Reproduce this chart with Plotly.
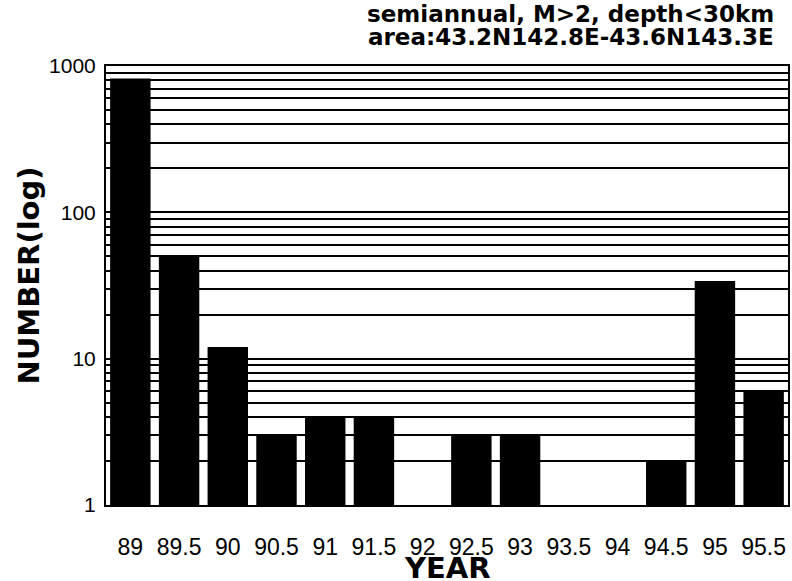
import plotly.graph_objects as go

years = ["89", "89.5", "90", "90.5", "91", "91.5", "92", "92.5", "93",
         "93.5", "94", "94.5", "95", "95.5"]
counts = [820, 50, 12, 3, 4, 4, None, 3, 3, None, None, 2, 34, 6]

# y tick positions: every 1-9 step per decade, labels only at decades
grid_vals = [m * 10 ** e for e in range(3) for m in range(1, 10)] + [1000]
grid_text = [str(v) if v in (1, 10, 100, 1000) else "" for v in grid_vals]

title_lines = ["semiannual, M>2, depth<30km", "area:43.2N142.8E-43.6N143.3E"]

bold = "DejaVu Sans"

fig = go.Figure()
fig.add_trace(go.Bar(x=years, y=counts, marker=dict(color="black", line=dict(width=0))))

fig.update_layout(
    width=792, height=581,
    margin=dict(l=106, r=4, t=66, b=76),
    paper_bgcolor="white", plot_bgcolor="white",
    bargap=0.17, showlegend=False,
    font=dict(family="Liberation Sans", color="black"),
)
fig.update_xaxes(
    type="category", automargin=False,
    tickfont=dict(size=23), ticklabelstandoff=20,
    showline=True, mirror=True, linecolor="black", linewidth=2,
    ticks="", showgrid=False,
)
fig.update_yaxes(
    type="log", range=[0, 3], automargin=False,
    tickvals=grid_vals, ticktext=grid_text,
    tickfont=dict(size=21), ticklabelstandoff=4,
    showline=True, mirror=True, linecolor="black", linewidth=2,
    showgrid=True, gridcolor="black", gridwidth=2, ticks="",
)

# axis titles
fig.add_annotation(text="<b>YEAR</b>", xref="paper", yref="paper", x=0.5, y=0,
                   yanchor="middle", yshift=-63, showarrow=False, borderpad=0,
                   font=dict(size=29, family=bold))
fig.add_annotation(text="<b>NUMBER(log)</b>", xref="paper", yref="paper", x=0, y=0.5,
                   xanchor="center", xshift=-78, yshift=10, textangle=-90,
                   showarrow=False, font=dict(size=29, family=bold))

for i, line in enumerate(title_lines):
    fig.add_annotation(
        text="<b>" + line + "</b>",
        xref="paper", yref="paper", x=0.981, y=1.0, xanchor="right", yanchor="middle",
        yshift=52 - 23 * i, showarrow=False, borderpad=0,
        font=dict(size=23, family=bold),
    )

fig.write_html("out.html", config={"displayModeBar": False},
               post_script="document.body.style.margin='0';")
